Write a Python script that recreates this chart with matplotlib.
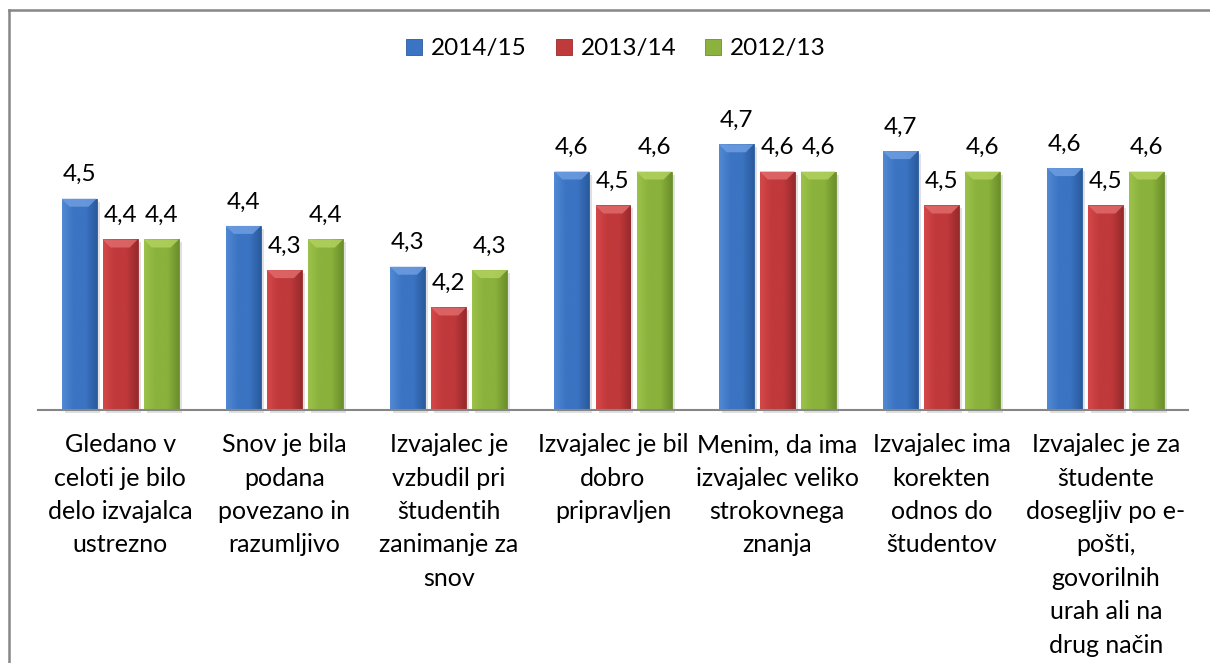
import matplotlib
matplotlib.use("Agg")
import matplotlib.pyplot as plt
import numpy as np
from matplotlib.patches import Patch, Polygon, Rectangle
from matplotlib.lines import Line2D
from matplotlib.colors import LinearSegmentedColormap

plt.rcParams['font.family'] = ['Lato', 'DejaVu Sans']

# Data
categories = [
    "Gledano v\nceloti je bilo\ndelo izvajalca\nustrezno",
    "Snov je bila\npodana\npovezano in\nrazumljivo",
    "Izvajalec je\nvzbudil pri\nštudentih\nzanimanje za\nsnov",
    "Izvajalec je bil\ndobro\npripravljen",
    "Menim, da ima\nizvajalec veliko\nstrokovnega\nznanja",
    "Izvajalec ima\nkorekten\nodnos do\nštudentov",
    "Izvajalec je za\nštudente\ndosegljiv po e-\npošti,\ngovorilnih\nurah ali na\ndrug način",
]
series_names = ["2014/15", "2013/14", "2012/13"]
v_2014_15 = [4.52, 4.44, 4.32, 4.60, 4.68, 4.66, 4.61]
v_2013_14 = [4.40, 4.31, 4.20, 4.50, 4.60, 4.50, 4.50]
v_2012_13 = [4.40, 4.40, 4.31, 4.60, 4.60, 4.60, 4.60]
series = [v_2014_15, v_2013_14, v_2012_13]

# (light, mid, dark, bevel) per series
palettes = [
    ("#5189d4", "#3b74c2", "#2a5b9e", "#6e9de0"),
    ("#d5484a", "#c0393b", "#982a2c", "#e06a6b"),
    ("#9cc24a", "#8ab23c", "#6c8f2c", "#b2d15e"),
]

fig = plt.figure(figsize=(12.1, 6.63), dpi=100)
ax = fig.add_axes([38 / 1210, 1 - 409.5 / 663, 1150 / 1210, (409.5 - 35.5) / 663])

ymin, ymax = 3.9, 5.0
ax.set_xlim(-0.5, len(categories) - 0.5)
ax.set_ylim(ymin, ymax)

x = np.arange(len(categories))
width = 0.213
pitch = 0.25
px_x = 1.0 / 164.3
px_y = (ymax - ymin) / 374.0

for si, vals in enumerate(series):
    light, mid, dark, bevel = palettes[si]
    cmap = LinearSegmentedColormap.from_list("g", [light, mid, mid, dark])
    grad = np.linspace(0, 1, 64).reshape(1, -1)
    offs = (si - 1) * pitch
    bars = ax.bar(x + offs, np.array(vals) - ymin, width, bottom=ymin,
                  color=mid, edgecolor=dark, linewidth=0.6, zorder=3)
    for b, v in zip(bars, vals):
        x0 = b.get_x()
        x1 = x0 + b.get_width()
        # soft shadow
        ax.add_patch(Rectangle((x0 + 3 * px_x, ymin - 3 * px_y), x1 - x0, v - ymin,
                               color="#000000", alpha=0.12, lw=0, zorder=2,
                               clip_on=False))
        im = ax.imshow(grad, cmap=cmap, aspect="auto", extent=(x0, x1, ymin, v),
                       zorder=3.5, interpolation="bicubic")
        im.set_clip_path(b)
        d_x = 8 * px_x
        d_y = 8 * px_y
        ax.add_patch(Polygon([(x0, v), (x1, v), (x1 - d_x, v - d_y), (x0 + d_x, v - d_y)],
                             closed=True, facecolor=bevel, edgecolor="none",
                             alpha=0.85, zorder=4))
        ax.annotate(f"{v:.1f}".replace(".", ","), xy=(x0 + (x1 - x0) / 2, v),
                    xytext=(0, 12.5), textcoords="offset points",
                    ha="center", va="baseline", fontsize=17.5, color="#000000")

ax.set_xticks(x)
ax.set_xticklabels(categories, fontsize=18, linespacing=1.55)
ax.tick_params(axis="x", length=0, pad=17)
ax.set_yticks([])
for side in ["top", "right", "left"]:
    ax.spines[side].set_visible(False)
ax.spines["bottom"].set_color("#868686")
ax.spines["bottom"].set_linewidth(1.5)
ax.spines["bottom"].set_zorder(5)

handles = [Patch(facecolor=p[1], edgecolor=p[2], linewidth=0.6) for p in palettes]
fig.legend(handles, series_names, loc="center", bbox_to_anchor=(616 / 1210, 1 - 49 / 663),
           ncol=3, frameon=False, fontsize=17.5, handlelength=0.66, handleheight=0.62,
           handletextpad=0.35, columnspacing=1.2, borderaxespad=0)

# chart border (top and left edges only are inside the picture)
top_y = 1 - 9.5 / 663
left_x = 8.5 / 1210
fig.add_artist(Line2D([left_x, 1.0], [top_y, top_y], transform=fig.transFigure,
                      color="#868686", linewidth=1.8))
fig.add_artist(Line2D([left_x, left_x], [0.0, top_y], transform=fig.transFigure,
                      color="#868686", linewidth=1.8))

fig.savefig("out.png", dpi=100)
